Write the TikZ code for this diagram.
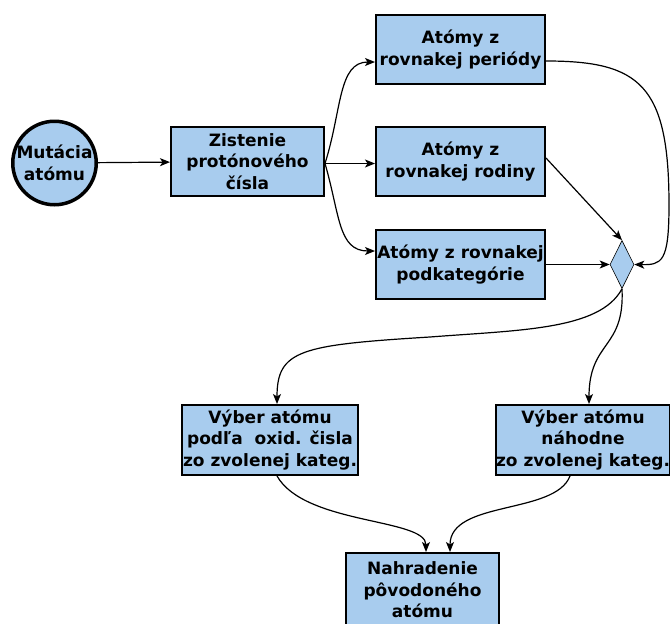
\documentclass[tikz,border=0pt]{standalone}
\usepackage{fontspec}
\setmainfont{DejaVu Sans}
\usetikzlibrary{shapes.geometric,arrows.meta}
\definecolor{boxblue}{RGB}{168,204,238}
\tikzset{
  stepbox/.style={draw=black, line width=2pt, fill=boxblue, rectangle, inner sep=0pt, align=center,
    font=\fontsize{17}{21.5}\selectfont\bfseries},
  startnode/.style={draw=black, line width=3.5pt, fill=boxblue, circle, inner sep=0pt, minimum size=82pt, align=center,
    font=\fontsize{17}{21.5}\selectfont\bfseries},
  joinnode/.style={draw=black, line width=0.6pt, fill=boxblue, diamond, inner sep=0pt, aspect=0.5,
    minimum width=24pt, minimum height=48pt},
  conn/.style={draw=black, line width=1.2pt, -{Stealth[length=10pt,width=8pt,inset=2.5pt]}}
}
\begin{document}
\begin{tikzpicture}[x=1pt,y=-1pt]
\useasboundingbox (0,0) rectangle (670,624);
\node[startnode] (m) at (54.5,163) {Mutácia\\atómu};
\node[stepbox, minimum width=153pt, minimum height=69pt] (z) at (247.5,161.5) {Zistenie\\protónového\\čísla};
\node[stepbox, minimum width=169pt, minimum height=69pt] (p) at (460.5,49.5) {Atómy z\\rovnakej periódy};
\node[stepbox, minimum width=169pt, minimum height=69pt] (r) at (460.5,161.5) {Atómy z\\rovnakej rodiny};
\node[stepbox, minimum width=169pt, minimum height=69pt] (k) at (460.5,264.5) {Atómy z rovnakej\\podkategórie};
\node[joinnode] (d) at (622,264.5) {};
\node[stepbox, minimum width=176pt, minimum height=70pt] (o) at (270,440) {Výber atómu\\podľa~ oxid. čisla\\zo zvolenej kateg.};
\node[stepbox, minimum width=170pt, minimum height=70pt] (n) at (583,440) {Výber atómu\\náhodne\\zo zvolenej kateg.};
\node[stepbox, minimum width=153pt, minimum height=74pt] (h) at (422.5,590) {Nahradenie\\pôvodoného\\atómu};

\draw[conn] (m) -- (z);
\draw[conn] ([yshift=-2pt]z.east) .. controls (342,110) and (338,62) .. ([yshift=-12.5pt]p.west);
\draw[conn] ([yshift=-2pt]z.east) -- ([yshift=-2pt]r.west);
\draw[conn] ([yshift=-2pt]z.east) .. controls (340,215) and (338,251) .. ([yshift=13.5pt]k.west);
\draw[conn] ([yshift=-11.5pt]p.east) .. controls (640,61) and (669,85) .. (669,205)
  .. controls (669,262) and (662,265) .. (d.east);
\draw[conn] ([yshift=3.5pt]r.east) -- (d.north);
\draw[conn] (k.east) -- (d.west);
\draw[conn] (d.south) .. controls (600,330) and (520,330) .. (430,337)
  .. controls (300,345) and (277,350) .. ([xshift=7pt]o.north);
\draw[conn] (d.south) .. controls (625,350) and (589,340) .. ([xshift=6pt]n.north);
\draw[conn] ([xshift=7pt]o.south) .. controls (305,525) and (426,518) .. ([xshift=3.5pt]h.north);
\draw[conn] ([xshift=-13pt]n.south) .. controls (555,515) and (450,500) .. ([xshift=27.5pt]h.north);
\end{tikzpicture}
\end{document}
